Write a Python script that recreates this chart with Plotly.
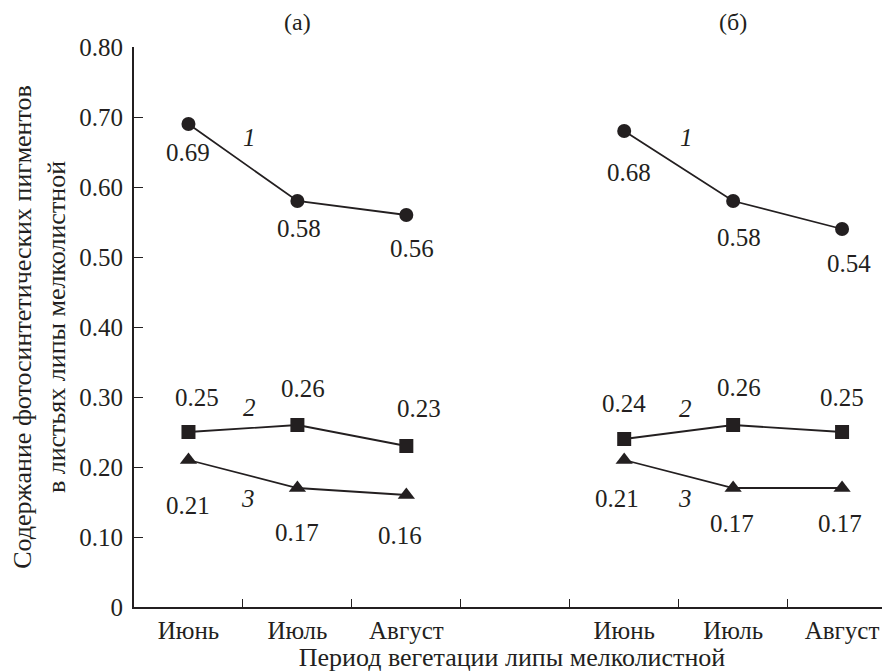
import plotly.graph_objects as go

# ---- data ----
months = ["Июнь", "Июль", "Август"]
x_a = [0, 1, 2]
x_b = [4, 5, 6]
s1_a = [0.69, 0.58, 0.56]
s1_b = [0.68, 0.58, 0.54]
s2_a = [0.25, 0.26, 0.23]
s2_b = [0.24, 0.26, 0.25]
s3_a = [0.21, 0.17, 0.16]
s3_b = [0.21, 0.17, 0.17]
y_ticks = [0, 0.1, 0.2, 0.3, 0.4, 0.5, 0.6, 0.7, 0.8]
y_ticktext = ["0", "0.10", "0.20", "0.30", "0.40", "0.50", "0.60", "0.70", "0.80"]
boundaries = [0.5, 1.5, 2.5, 3.5, 4.5, 5.5]
panel_labels = ["(а)", "(б)"]
series_names = ["1", "2", "3"]

INK = "#231f20"
FONT = "'Liberation Serif', 'Times New Roman', Tinos, 'DejaVu Serif', serif"
FS = 25
FS_TITLE = 26

fig = go.Figure()

series = [
    (s1_a, s1_b, "circle", 14),
    (s2_a, s2_b, "square", 14),
    (s3_a, s3_b, "triangle-up", 15),
]
for ya, yb, sym, sz in series:
    for xs, ys in ((x_a, ya), (x_b, yb)):
        fig.add_trace(go.Scatter(
            x=xs, y=ys, mode="lines+markers",
            line=dict(color=INK, width=1.8),
            marker=dict(symbol=sym, size=sz, color=INK),
            showlegend=False, hoverinfo="skip"))

# value label offsets (dx, dy in px; dy positive = down)
offs = {
    "s1_a": [(0, 28), (2, 27), (6, 33)],
    "s1_b": [(5, 41), (6, 36), (7, 34)],
    "s2_a": [(9, -35), (6, -37), (13, -38)],
    "s2_b": [(0, -36), (6, -38), (0, -35)],
    "s3_a": [(0, 45), (0, 44), (-6, 40)],
    "s3_b": [(-7, 38), (-1, 35), (-2, 35)],
}
data_map = {"s1_a": (x_a, s1_a), "s1_b": (x_b, s1_b), "s2_a": (x_a, s2_a),
            "s2_b": (x_b, s2_b), "s3_a": (x_a, s3_a), "s3_b": (x_b, s3_b)}
annotations = []
for key, (xs, ys) in data_map.items():
    for (xv, yv), (dx, dy) in zip(zip(xs, ys), offs[key]):
        annotations.append(dict(
            x=xv, y=yv, xref="x", yref="y", text=f"{yv:.2f}", showarrow=False,
            xshift=dx, yshift=-dy, font=dict(family=FONT, size=FS, color=INK)))

# series number labels (italic), relative to first point of each panel
num_offs = [((s1_a[0], 61, -13), (s1_b[0], 62, -6)),
            ((s2_a[0], 61, 25), (s2_b[0], 61, 31)),
            ((s3_a[0], 60, -38), (s3_b[0], 61, -38))]
for name, (pa, pb) in zip(series_names, num_offs):
    for xv, (yv, dx, dy) in ((x_a[0], pa), (x_b[0], pb)):
        annotations.append(dict(
            x=xv, y=yv, xref="x", yref="y", text=f"<i>{name}</i>", showarrow=False,
            xshift=dx, yshift=dy, font=dict(family=FONT, size=FS, color=INK)))

# panel labels
for lab, xv in zip(panel_labels, [x_a[1], x_b[1]]):
    annotations.append(dict(
        x=xv, y=1, xref="x", yref="paper", text=lab, showarrow=False,
        yanchor="middle", yshift=25, font=dict(family=FONT, size=FS - 1, color=INK)))

# page body has an 8px default margin: shrink the figure so it fits the window
fig.update_layout(
    width=882, height=664,
    margin=dict(l=125.5, r=0, t=39, b=65, pad=0),
    paper_bgcolor="white", plot_bgcolor="white",
    font=dict(family=FONT, size=FS, color=INK),
    annotations=annotations,
    xaxis=dict(
        range=[-0.5, 6.44],
        tickmode="array", tickvals=x_a + x_b, ticktext=months + months,
        ticks="",
        minor=dict(tickmode="array", tickvals=boundaries, ticks="inside",
                   ticklen=8, tickcolor=INK, tickwidth=1.3, showgrid=False),
        showline=True, linecolor=INK, linewidth=1.8, showgrid=False, zeroline=False,
        tickfont=dict(family=FONT, size=FS, color=INK),
        title=dict(text="Период вегетации липы мелколистной", standoff=5,
                   font=dict(family=FONT, size=FS_TITLE, color=INK)),
    ),
    yaxis=dict(
        range=[0, 0.8],
        tickmode="array", tickvals=y_ticks, ticktext=y_ticktext,
        ticks="inside", ticklen=9, tickcolor=INK, tickwidth=1.3,
        showline=True, linecolor=INK, linewidth=1.8, showgrid=False, zeroline=False,
        ticklabelstandoff=4,
        tickfont=dict(family=FONT, size=FS, color=INK),
        title=dict(text="Содержание фотосинтетических пигментов<br>в листьях липы мелколистной",
                   standoff=10, font=dict(family=FONT, size=FS_TITLE, color=INK)),
    ),
)

fig.write_html("out.html")
